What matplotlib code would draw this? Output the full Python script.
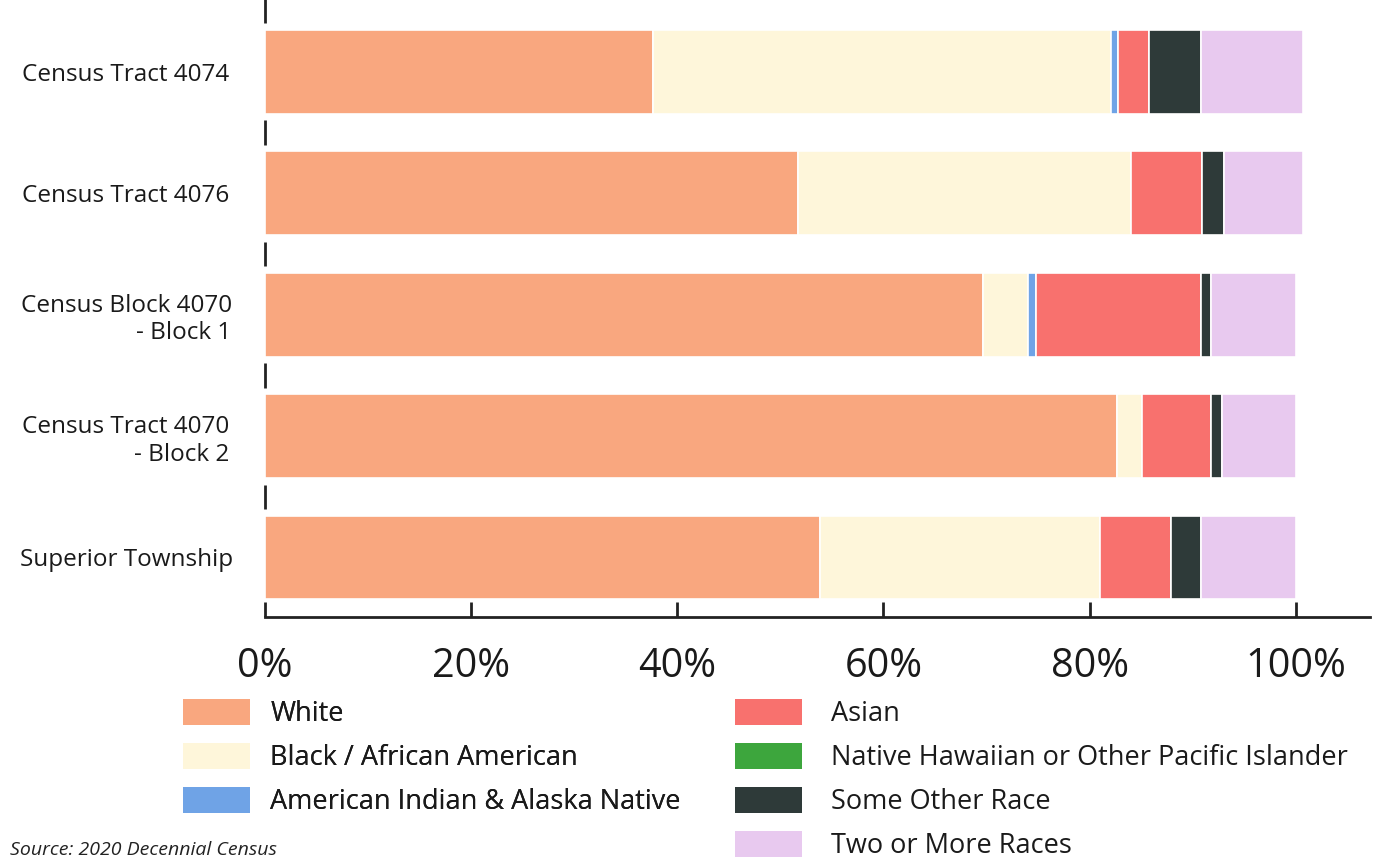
import matplotlib
matplotlib.use("Agg")
import matplotlib.pyplot as plt
from matplotlib.patches import Patch
import numpy as np

plt.rcParams['font.family'] = ['Open Sans', 'DejaVu Sans']

categories = ["Census Tract 4074", "Census Tract 4076", "Census Block 4070\n- Block 1",
              "Census Tract 4070\n- Block 2", "Superior Township"]
series_names = ["White", "Black / African American", "American Indian & Alaska Native",
                "Asian", "Native Hawaiian or Other Pacific Islander", "Some Other Race",
                "Two or More Races"]
white = [37.6, 51.7, 69.7, 82.7, 53.8]
black = [44.5, 32.3, 4.3, 2.4, 27.2]
am_indian = [0.7, 0.0, 0.8, 0.0, 0.0]
asian = [3.0, 6.9, 16.0, 6.7, 6.9]
nhpi = [0.0, 0.0, 0.0, 0.0, 0.0]
other = [5.0, 2.1, 1.0, 1.0, 2.9]
two_plus = [9.9, 7.7, 8.2, 7.2, 9.2]
tick_values = [0, 20, 40, 60, 80, 100]
tick_labels = ["0%", "20%", "40%", "60%", "80%", "100%"]

colors = ["#F9A77F", "#FEF6DA", "#6FA3E6", "#F8716E", "#3DA63D", "#2E3A39", "#E8C9EF"]
series = [white, black, am_indian, asian, nhpi, other, two_plus]

fig = plt.figure(figsize=(13.8, 8.6), dpi=100)
ax = fig.add_axes([265/1380, (860-617)/860, (1370-265)/1380, (617-5)/860])

y = np.arange(len(categories))
left = np.zeros(len(categories))
for vals, col in zip(series, colors):
    v = np.array(vals)
    ax.barh(y, v, left=left, height=0.69, color=col, edgecolor='white', linewidth=1.2)
    left += v

ax.set_xlim(0, 107.2)
ax.set_ylim(4.49, -0.55)
for s in ['top', 'right', 'left']:
    ax.spines[s].set_visible(False)
ax.spines['bottom'].set_linewidth(2)
ax.spines['bottom'].set_color('#222222')

ax.set_xticks(tick_values)
ax.set_xticklabels(tick_labels, fontsize=28.5, color='#1a1a1a')
ax.tick_params(axis='x', direction='in', length=11, width=2, color='#222222', pad=21)

ax.set_yticks(y)
ax.set_yticklabels(categories, fontsize=17.5, color='#1a1a1a', ha='center', multialignment='right')
ax.tick_params(axis='y', length=0, pad=100)

# small boundary marks on the left
bounds = np.arange(len(categories)) - 0.5
ax.vlines([0]*len(bounds), bounds - 0.1, bounds + 0.1, color='#222222', linewidth=2, clip_on=False)

handles = [Patch(facecolor=c, edgecolor='none') for c in colors]
kw = dict(loc='upper left', frameon=False, fontsize=19.5, handlelength=2.48, handleheight=1.1,
          labelspacing=0.54, handletextpad=0.75, borderaxespad=0, borderpad=0)
leg1 = fig.legend(handles[:3], series_names[:3], bbox_to_anchor=(183/1380, 1 - 699/860), **kw)
kw2 = dict(kw, handletextpad=1.05)
leg2 = fig.legend(handles[3:], series_names[3:], bbox_to_anchor=(735/1380, 1 - 699/860), **kw2)
fig.add_artist(leg1)
for leg in (leg1, leg2):
    for t in leg.get_texts():
        t.set_color('#1a1a1a')

fig.text(10/1380, 1/860, "Source: 2020 Decennial Census", fontsize=14, style='italic',
         color='#222222', va='bottom', ha='left')

fig.savefig("out.png", dpi=100)
